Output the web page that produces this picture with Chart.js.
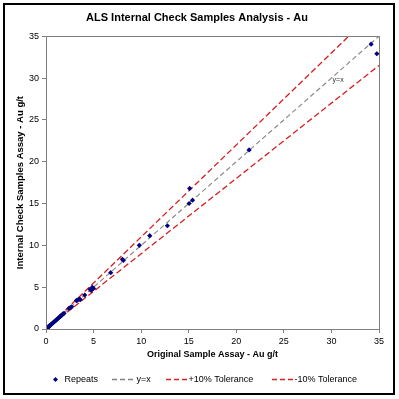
<!DOCTYPE html>
<html>
<head>
<meta charset="utf-8">
<script src="https://cdn.jsdelivr.net/npm/chart.js@4"></script>
<style>
html,body{margin:0;padding:0;background:#fff;}
#wrap{position:relative;width:399px;height:399px;}
</style>
</head>
<body>
<div id="wrap"><canvas id="c" width="399" height="399"></canvas></div>
<script>
// ---- data ----
const originalAu = [0.01,0.02,0.03,0.05,0.06,0.08,0.10,0.12,0.15,0.18,0.20,0.25,0.30,0.35,0.40,0.45,0.50,0.60,0.70,0.80,0.90,1.00,1.10,1.20,1.30,1.40,1.50,1.60,1.70,1.80,1.90,
  2.40,2.56,2.70,3.20,3.30,3.50,3.60,4.07,4.63,4.75,4.87,5.00,6.80,8.03,8.13,9.81,10.90,12.76,15.04,15.40,15.10,21.35,34.17,34.77];
const repeatAu   = [0.01,0.02,0.04,0.05,0.07,0.08,0.11,0.12,0.15,0.19,0.21,0.25,0.31,0.35,0.41,0.45,0.51,0.60,0.71,0.80,0.91,1.00,1.10,1.21,1.30,1.41,1.50,1.61,1.70,1.82,1.87,
  2.45,2.55,2.65,3.40,3.46,3.58,3.50,4.06,4.74,4.60,4.98,4.85,6.73,8.33,8.20,10.00,11.15,12.34,15.00,15.40,16.80,21.40,34.05,32.90];
const refLineX   = [0, 35];
const equalY     = [0, 35];
const plusTolY   = [0, 38.5];
const minusTolY  = [0, 31.5];
const axisTicks  = [0, 5, 10, 15, 20, 25, 30, 35];
const seriesNames = ['Repeats', 'y=x', '+10% Tolerance', '-10% Tolerance'];

const pts = (xs, ys) => xs.map((x, i) => ({x: x, y: ys[i]}));
const FONT = 'Liberation Sans, Arial, sans-serif';

const framePlugin = {
  id: 'frame',
  beforeDraw(chart) {
    const ctx = chart.ctx;
    ctx.save();
    ctx.fillStyle = '#fff';
    ctx.fillRect(0, 0, chart.width, chart.height);
    ctx.restore();
  },
  afterDraw(chart) {
    const ctx = chart.ctx, a = chart.chartArea;
    ctx.save();
    // plot area border
    ctx.strokeStyle = '#808080';
    ctx.lineWidth = 1;
    ctx.strokeRect(Math.round(a.left) + 0.5, Math.round(a.top) + 0.5, Math.round(a.right - a.left), Math.round(a.bottom - a.top));
    // outer frame
    ctx.strokeStyle = '#000';
    ctx.lineWidth = 2;
    ctx.strokeRect(4, 4, 390, 390);
    // y=x label inside plot
    const xs = chart.scales.x, ys = chart.scales.y;
    ctx.fillStyle = '#333';
    ctx.font = '7px ' + FONT;
    ctx.textAlign = 'center';
    ctx.textBaseline = 'middle';
    ctx.fillText('y=x', xs.getPixelForValue(30.7), ys.getPixelForValue(29.7));
    // legend
    const ly = 379.5;
    ctx.font = '9px ' + FONT;
    ctx.textAlign = 'left';
    ctx.fillStyle = '#000';
    // Repeats marker
    ctx.fillStyle = '#000080';
    ctx.beginPath();
    const mx = 55.5, r = 2.5;
    ctx.moveTo(mx, ly - r); ctx.lineTo(mx + r, ly); ctx.lineTo(mx, ly + r); ctx.lineTo(mx - r, ly); ctx.closePath();
    ctx.fill();
    ctx.fillStyle = '#000';
    ctx.fillText(seriesNames[0], 64.5, ly);
    const drawLine = (x0, x1, color, name) => {
      ctx.save();
      ctx.strokeStyle = color; ctx.lineWidth = 1.3; ctx.setLineDash([5, 3]);
      ctx.beginPath(); ctx.moveTo(x0, ly); ctx.lineTo(x1, ly); ctx.stroke();
      ctx.restore();
      ctx.fillStyle = '#000';
      ctx.fillText(name, x1 + 0.5, ly);
    };
    drawLine(112, 136, '#808080', seriesNames[1]);
    drawLine(166, 188, '#d62020', seriesNames[2]);
    drawLine(272, 294, '#d62020', seriesNames[3]);
    ctx.restore();
  }
};

const axisCommon = {
  type: 'linear',
  min: 0, max: 35,
  afterBuildTicks: (s) => { s.ticks = axisTicks.map(v => ({value: v})); },
  grid: { drawOnChartArea: false, drawTicks: true, tickLength: 4, color: '#808080', tickColor: '#808080' },
  border: { color: '#808080', width: 1 },
  ticks: { color: '#000', font: { family: FONT, size: 9 }, padding: 3 }
};

new Chart(document.getElementById('c'), {
  type: 'scatter',
  data: {
    datasets: [
      { label: seriesNames[0], data: pts(originalAu, repeatAu), showLine: false,
        pointStyle: 'rectRot', pointRadius: 2.6, backgroundColor: '#000080', borderColor: '#000080', borderWidth: 0, order: 0 },
      { label: seriesNames[1], data: pts(refLineX, equalY), showLine: true, pointRadius: 0,
        borderColor: '#8c8c8c', borderWidth: 1.2, borderDash: [5, 3], order: 1 },
      { label: seriesNames[2], data: pts(refLineX, plusTolY), showLine: true, pointRadius: 0,
        borderColor: '#d62020', borderWidth: 1.3, borderDash: [6, 3], order: 2 },
      { label: seriesNames[3], data: pts(refLineX, minusTolY), showLine: true, pointRadius: 0,
        borderColor: '#d62020', borderWidth: 1.3, borderDash: [6, 3], order: 3 }
    ]
  },
  options: {
    responsive: false,
    animation: false,
    devicePixelRatio: 1,
    layout: { padding: { left: 15, right: 20, top: 4, bottom: 39 } },
    plugins: {
      legend: { display: false },
      tooltip: { enabled: false },
      title: {
        display: true,
        text: 'ALS Internal Check Samples Analysis - Au',
        color: '#000',
        font: { family: FONT, size: 11, weight: 'bold' },
        padding: { top: 7, bottom: 12 }
      }
    },
    scales: {
      x: Object.assign({}, axisCommon, {
        position: 'bottom',
        title: { display: true, text: 'Original Sample Assay - Au g/t', color: '#000',
          font: { family: FONT, size: 9, weight: 'bold' }, padding: { top: 2, bottom: 0 } },
        afterFit: (s) => { s.height = 31; }
      }),
      y: Object.assign({}, axisCommon, {
        position: 'left',
        title: { display: true, text: 'Internal Check Samples Assay - Au g/t', color: '#000',
          font: { family: FONT, size: 9.5, weight: 'bold' }, padding: { top: 0, bottom: 2 } },
        afterFit: (s) => { s.width = 31; }
      })
    }
  },
  plugins: [framePlugin]
});
</script>
</body>
</html>
